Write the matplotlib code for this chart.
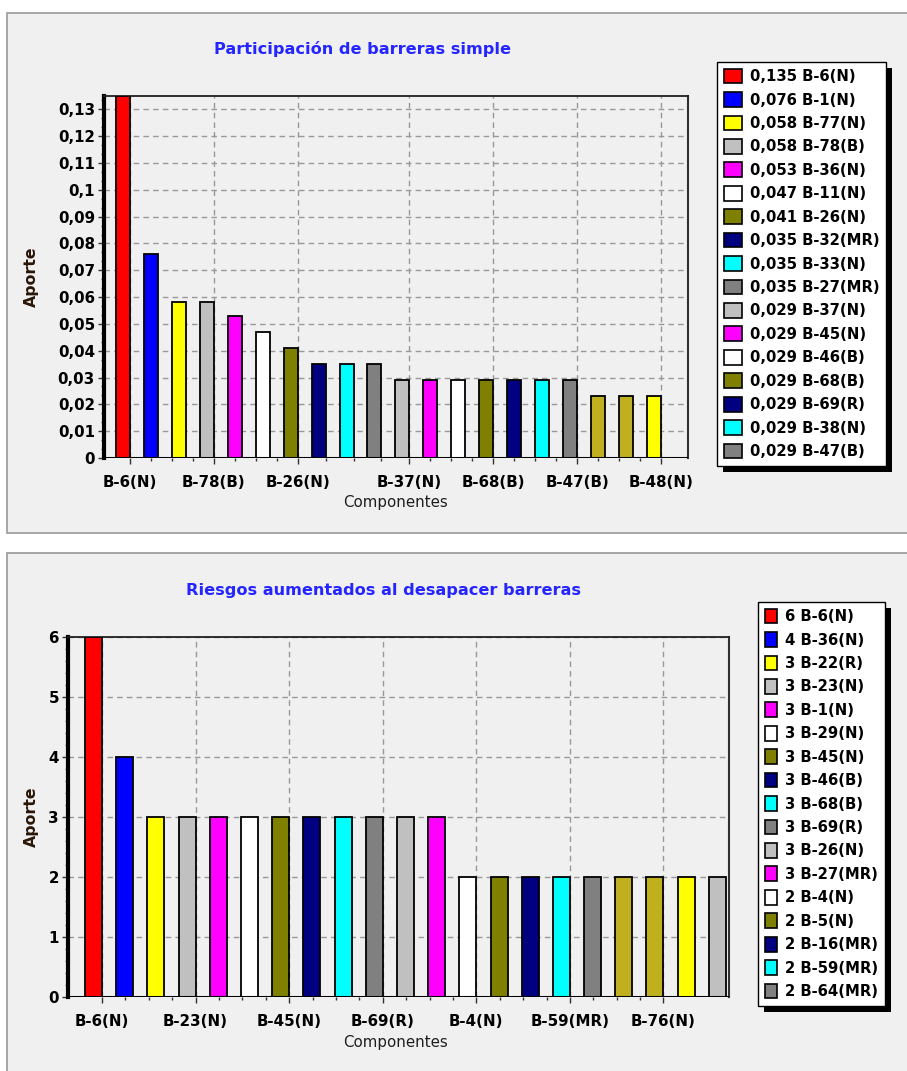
import matplotlib
matplotlib.use("Agg")
import matplotlib.pyplot as plt
from matplotlib.patches import Rectangle, Patch
from matplotlib.ticker import FixedLocator, AutoMinorLocator
import numpy as np

# ---------------- data ----------------
top_names = ["B-6(N)", "B-1(N)", "B-77(N)", "B-78(B)", "B-36(N)", "B-11(N)", "B-26(N)",
             "B-32(MR)", "B-33(N)", "B-27(MR)", "B-37(N)", "B-45(N)", "B-46(B)", "B-68(B)",
             "B-69(R)", "B-38(N)", "B-47(B)", "", "", "B-48(N)"]
top_values = [0.135, 0.076, 0.058, 0.058, 0.053, 0.047, 0.041, 0.035, 0.035, 0.035,
              0.029, 0.029, 0.029, 0.029, 0.029, 0.029, 0.029, 0.023, 0.023, 0.023]
top_tick_idx = [0, 3, 6, 10, 13, 16, 19]
top_legend_n = 17

bot_names = ["B-6(N)", "B-36(N)", "B-22(R)", "B-23(N)", "B-1(N)", "B-29(N)", "B-45(N)",
             "B-46(B)", "B-68(B)", "B-69(R)", "B-26(N)", "B-27(MR)", "B-4(N)", "B-5(N)",
             "B-16(MR)", "B-59(MR)", "B-64(MR)", "", "B-76(N)", "", ""]
bot_values = [6, 4, 3, 3, 3, 3, 3, 3, 3, 3, 3, 3, 2, 2, 2, 2, 2, 2, 2, 2, 2]
bot_tick_idx = [0, 3, 6, 9, 12, 15, 18]
bot_legend_n = 17

palette = ["#FF0000", "#0000FF", "#FFFF00", "#C0C0C0", "#FF00FF", "#FFFFFF", "#808000",
           "#000080", "#00FFFF", "#808080", "#C0C0C0", "#FF00FF", "#FFFFFF", "#808000",
           "#000080", "#00FFFF", "#808080", "#C0B020", "#C0B020", "#FFFF00", "#C0C0C0"]

top_title = "Participación de barreras simple"
bot_title = "Riesgos aumentados al desapacer barreras"

W, H = 907, 1071
FONT = "DejaVu Sans"
plt.rcParams["font.family"] = [FONT]

fig = plt.figure(figsize=(W / 100, H / 100), dpi=100, facecolor="white")

def fx(px):
    return px / W

def fy(py):
    return 1 - py / H

# panels
PANEL = "#F0F0F0"
fig.patches.append(Rectangle((fx(7), fy(533)), 1.2, (533 - 13) / H, transform=fig.transFigure,
                             facecolor=PANEL, edgecolor="#A0A0A0", lw=1.3, zorder=-5))
fig.patches.append(Rectangle((fx(7), -0.1), 1.2, fy(553) + 0.1, transform=fig.transFigure,
                             facecolor=PANEL, edgecolor="#A0A0A0", lw=1.3, zorder=-5))


def fmt_top(v):
    s = f"{v:.2f}".rstrip("0").rstrip(".")
    return s.replace(".", ",")


def make_chart(rect, names, values, tick_idx, width, xlim, ylim, yticks, ylabels, yminor):
    ax = fig.add_axes(rect)
    ax.patch.set_alpha(0)
    x = np.arange(len(values))
    ax.bar(x - width, values, width=width, align="edge", color=palette[:len(values)],
           edgecolor="black", linewidth=1.3, zorder=3)
    ax.axhline(0, color="black", lw=2.2, zorder=4)
    ax.set_xlim(*xlim)
    ax.set_ylim(*ylim)
    ax.set_xticks(tick_idx, [names[i] for i in tick_idx], fontweight="bold", fontsize=10.8)
    minors = []
    for a, b in zip(tick_idx[:-1], tick_idx[1:]):
        minors += list(np.linspace(a, b, 5)[1:-1])
    ax.xaxis.set_minor_locator(FixedLocator(minors))
    ax.set_yticks(yticks, ylabels, fontweight="bold", fontsize=10.8)
    ax.yaxis.set_minor_locator(AutoMinorLocator(yminor))
    ax.tick_params(axis="x", which="major", direction="out", length=4, width=1,
                   pad=8, colors="#333333", labelcolor="black")
    ax.tick_params(axis="x", which="minor", direction="out", length=2.5, width=1, colors="#333333")
    ax.tick_params(axis="y", which="major", direction="out", length=4, width=1,
                   pad=2.5, colors="#333333", labelcolor="black")
    ax.tick_params(axis="y", which="minor", direction="out", length=2, width=1, colors="#555555")
    ax.grid(True, which="major", color="#999999", linestyle=(0, (4, 3)), lw=1, zorder=1)
    ax.set_axisbelow(True)
    ax.spines["bottom"].set_visible(False)
    ax.spines["left"].set_linewidth(3)
    ax.spines["left"].set_color("black")
    ax.spines["top"].set_linewidth(1.3)
    ax.spines["top"].set_color("#202020")
    ax.spines["right"].set_linewidth(1.5)
    ax.spines["right"].set_color("#303030")
    return ax


# ---------------- top chart ----------------
top_yt = [round(0.01 * k, 2) for k in range(14)]
ax1 = make_chart([fx(104), fy(458), (688 - 104) / W, (458 - 96) / H], top_names, top_values,
                 top_tick_idx, 0.5, (-0.93, 19.97), (0, 0.135), top_yt,
                 [fmt_top(v) for v in top_yt], 3)

# ---------------- bottom chart ----------------
bot_yt = list(range(7))
ax2 = make_chart([fx(68), fy(997), (729 - 68) / W, (997 - 637) / H], bot_names, bot_values,
                 bot_tick_idx, 0.545, (-1.09, 20.1), (0, 6), bot_yt, [str(v) for v in bot_yt], 5)

# titles and axis labels
TITLE_C = "#2525FF"
LAB_C = "#2A1608"
fig.text(fx(363), fy(49), top_title, ha="center", va="center", color=TITLE_C,
         fontsize=11.6, fontweight="bold")
fig.text(fx(383), fy(590), bot_title, ha="center", va="center", color=TITLE_C,
         fontsize=11.6, fontweight="bold")
for yc in (277, 817):
    fig.text(fx(31), fy(yc), "Aporte", rotation=90, ha="center", va="center",
             color=LAB_C, fontsize=11.3, fontweight="bold")
for yc in (503, 1043):
    fig.text(fx(395), fy(yc), "Componentes", ha="center", va="center",
             color="#1E1E1E", fontsize=10.8)

# ---------------- legends ----------------
top_labels = [f"{v:.3f}".replace(".", ",") + " " + n
              for v, n in zip(top_values[:top_legend_n], top_names[:top_legend_n])]
bot_labels = [f"{v} {n}" for v, n in zip(bot_values[:bot_legend_n], bot_names[:bot_legend_n])]


def make_legend(labels, colors, anchor, hlen, htpad):
    handles = [Patch(facecolor=c, edgecolor="black", linewidth=1.2) for c in colors]
    leg = fig.legend(handles, labels, loc="upper left", bbox_to_anchor=anchor,
                     bbox_transform=fig.transFigure, borderaxespad=0, frameon=True,
                     fancybox=False, framealpha=1, edgecolor="black", facecolor="white",
                     prop={"family": FONT, "weight": "bold", "size": 10.7},
                     handlelength=hlen, handleheight=1.15, handletextpad=htpad,
                     labelspacing=0.54, borderpad=0.45)
    leg.get_frame().set_linewidth(1.0)
    leg.set_zorder(10)
    return leg


leg1 = make_legend(top_labels, palette[:top_legend_n], (fx(717), fy(62)), 1.21, 0.54)
leg2 = make_legend(bot_labels, palette[:bot_legend_n], (fx(758), fy(602)), 0.85, 0.5)

fig.canvas.draw()
inv = fig.transFigure.inverted()
for leg in (leg1, leg2):
    bb = leg.get_window_extent().transformed(inv)
    fig.patches.append(Rectangle((bb.x0 + 6 / W, bb.y0 - 6 / H), bb.width, bb.height,
                                 transform=fig.transFigure, facecolor="black",
                                 edgecolor="none", zorder=9))

fig.savefig("out.png", dpi=100, facecolor="white")
